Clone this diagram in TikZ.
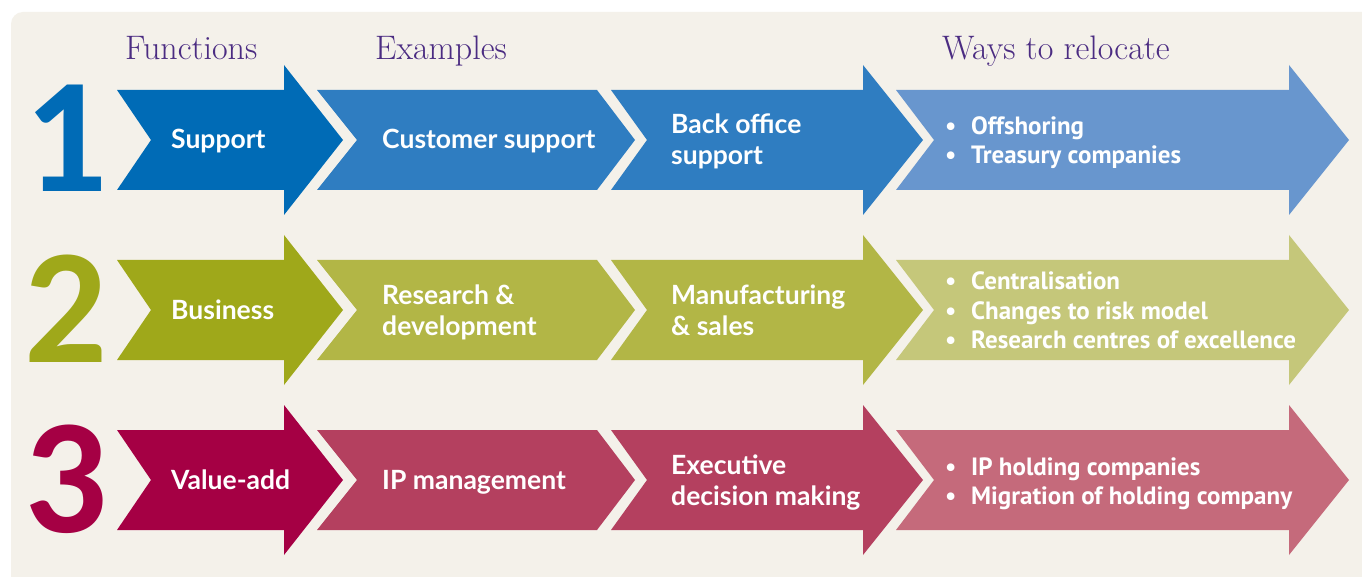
\documentclass[tikz,border=0pt]{standalone}
\usepackage{fontspec}
\newfontfamily\latofont{Lato}
\newfontfamily\ptfont{PT Sans}
\newfontfamily\numfont{Carlito}
\definecolor{bgc}{HTML}{F4F1EA}
\definecolor{purp}{HTML}{4B2C82}
\definecolor{ba}{HTML}{006BB6}
\definecolor{bb}{HTML}{2F7DC1}
\definecolor{bc}{HTML}{6896CE}
\definecolor{ga}{HTML}{9FA81A}
\definecolor{gb}{HTML}{B2B646}
\definecolor{gc}{HTML}{C5C77A}
\definecolor{ra}{HTML}{A50044}
\definecolor{rb}{HTML}{B4405F}
\definecolor{rc}{HTML}{C56A7B}
\begin{document}
\begin{tikzpicture}[x=1pt,y=-1pt,
  hdr/.style={text=purp, font=\fontsize{34}{34}\selectfont, anchor=base west, inner sep=0pt},
  lbl/.style={text=white, font=\latofont\bfseries\fontsize{26.5}{26.5}\selectfont, anchor=base west, inner sep=0pt},
  rlbl/.style={text=white, font=\ptfont\bfseries\fontsize{25}{25}\selectfont, anchor=base west, inner sep=0pt},
  num/.style={font=\numfont\bfseries\fontsize{164}{164}\selectfont, anchor=base, inner sep=0pt}]
\useasboundingbox (0,0) rectangle (1362,577);
\clip (0,0) rectangle (1362,577);
\fill[white] (0,0) rectangle (1362,577);
\fill[bgc, rounded corners=12pt] (11,12) rectangle (1385,600);
% arrows
\foreach \yc/\ca/\cb/\cc in {140/ba/bb/bc, 310/ga/gb/gc, 480/ra/rb/rc}{
  \fill[\ca] (117,\yc-50) -- (284,\yc-50) -- (284,\yc-75) -- (343,\yc) -- (284,\yc+75) -- (284,\yc+50) -- (117,\yc+50) -- (151,\yc) -- cycle;
  \fill[\cb] (317,\yc-50) -- (597,\yc-50) -- (635,\yc) -- (597,\yc+50) -- (317,\yc+50) -- (357,\yc) -- cycle;
  \fill[\cb] (611,\yc-50) -- (863,\yc-50) -- (863,\yc-75) -- (923,\yc) -- (863,\yc+75) -- (863,\yc+50) -- (611,\yc+50) -- (647,\yc) -- cycle;
  \fill[\cc] (896,\yc-50) -- (1289,\yc-50) -- (1289,\yc-75) -- (1349,\yc) -- (1289,\yc+75) -- (1289,\yc+50) -- (896,\yc+50) -- (934,\yc) -- cycle;
}
% headers
\node[hdr] (hf) at (125,60) {Functions};
\node[hdr] (he) at (375,60) {Examples};
\node[hdr] (hw) at (942,60) {Ways to relocate};
% numbers
\node[num, text=ba] (n1) at (66,192) {1};
\node[num, text=ga] (n2) at (66,362) {2};
\node[num, text=ra] (n3) at (66,532) {3};
% row 1
\node[lbl] (s1) at (171,149) {Support};
\node[lbl] (e1) at (382,149) {Customer support};
\node[lbl] (f1a) at (671,134) {Back office};
\node[lbl] (f1b) at (671,165) {support};
\node[rlbl] (b1a) at (945,135) {•};
\node[rlbl] (w1a) at (971,135) {Offshoring};
\node[rlbl] (b1b) at (945,164) {•};
\node[rlbl] (w1b) at (971,164) {Treasury companies};
% row 2
\node[lbl] (s2) at (171,319) {Business};
\node[lbl] (e2a) at (382,304) {Research \&};
\node[lbl] (e2b) at (382,335) {development};
\node[lbl] (f2a) at (671,304) {Manufacturing};
\node[lbl] (f2b) at (671,335) {\& sales};
\node[rlbl] (b2a) at (945,290) {•};
\node[rlbl] (w2a) at (971,290) {Centralisation};
\node[rlbl] (b2b) at (945,319) {•};
\node[rlbl] (w2b) at (971,319) {Changes to risk model};
\node[rlbl] (b2c) at (945,348) {•};
\node[rlbl] (w2c) at (971,348) {Research centres of excellence};
% row 3
\node[lbl] (s3) at (171,489) {Value-add};
\node[lbl] (e3) at (382,489) {IP management};
\node[lbl] (f3a) at (671,474) {Executive};
\node[lbl] (f3b) at (671,505) {decision making};
\node[rlbl] (b3a) at (945,475) {•};
\node[rlbl] (w3a) at (971,475) {IP holding companies};
\node[rlbl] (b3b) at (945,504) {•};
\node[rlbl] (w3b) at (971,504) {Migration of holding company};
\end{tikzpicture}
\end{document}
